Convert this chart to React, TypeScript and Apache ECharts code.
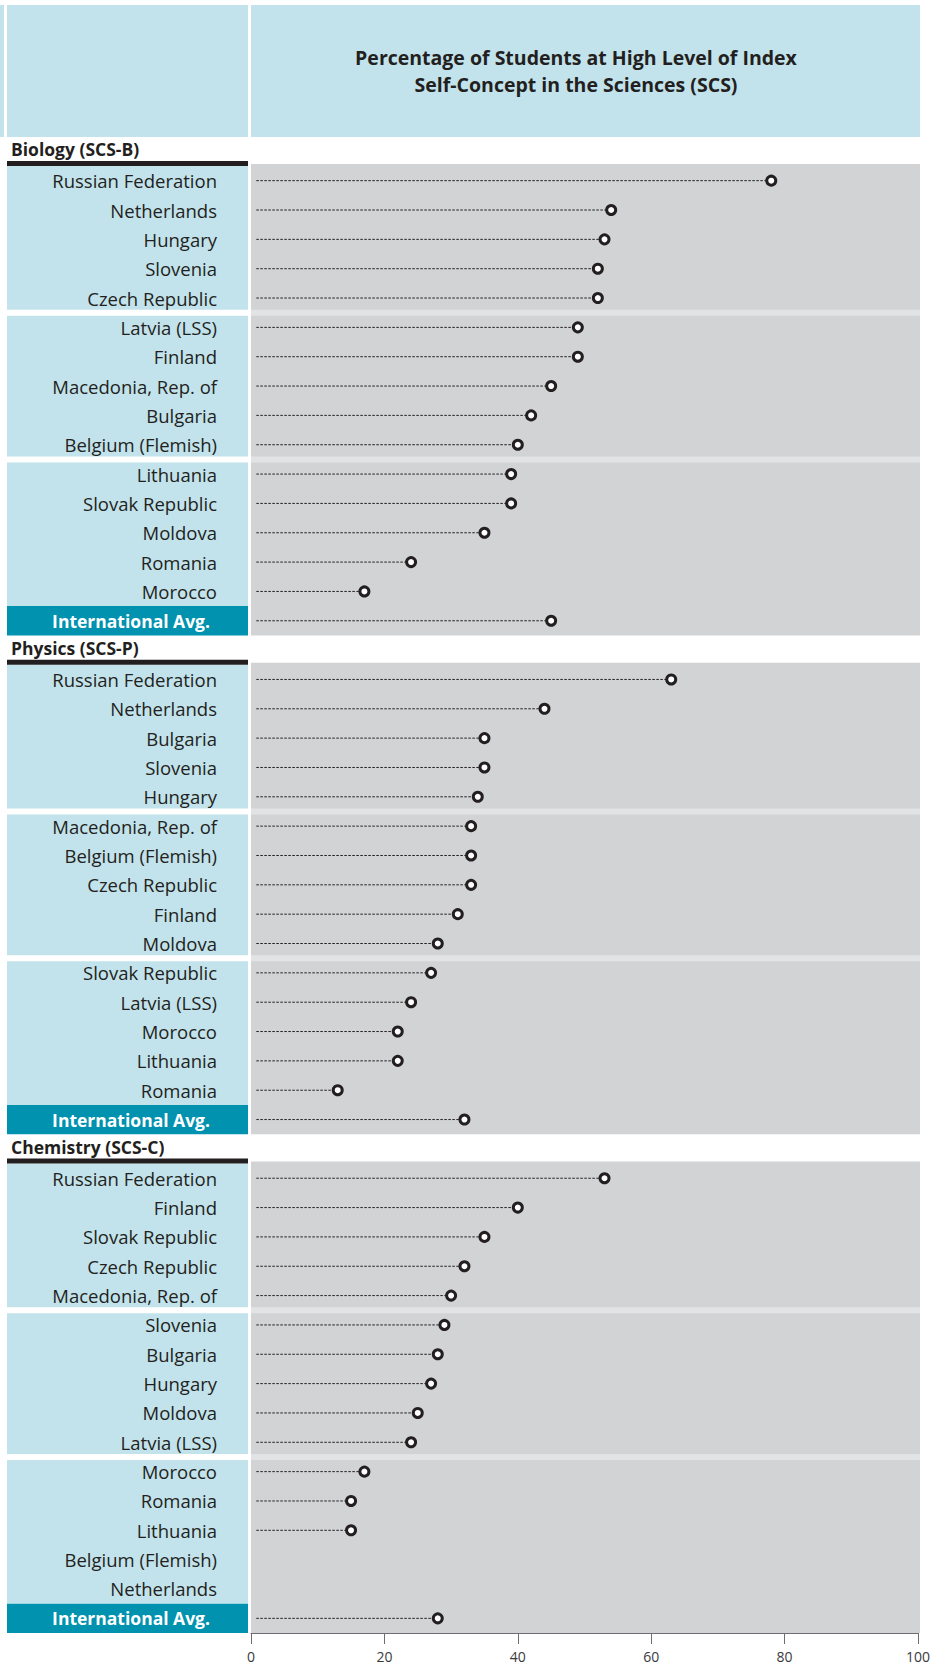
import React, { useEffect, useRef } from "react";
import * as echarts from "echarts";

const TITLE_LINES = [
  "Percentage of Students at High Level of Index",
  "Self-Concept in the Sciences (SCS)",
];

const SUBJECTS = ["Biology (SCS-B)", "Physics (SCS-P)", "Chemistry (SCS-C)"];

const BIO_COUNTRIES = [
  "Russian Federation", "Netherlands", "Hungary", "Slovenia", "Czech Republic",
  "Latvia (LSS)", "Finland", "Macedonia, Rep. of", "Bulgaria", "Belgium (Flemish)",
  "Lithuania", "Slovak Republic", "Moldova", "Romania", "Morocco",
  "International Avg.",
];
const BIO_VALUES = [78, 54, 53, 52, 52, 49, 49, 45, 42, 40, 39, 39, 35, 24, 17, 45];

const PHY_COUNTRIES = [
  "Russian Federation", "Netherlands", "Bulgaria", "Slovenia", "Hungary",
  "Macedonia, Rep. of", "Belgium (Flemish)", "Czech Republic", "Finland", "Moldova",
  "Slovak Republic", "Latvia (LSS)", "Morocco", "Lithuania", "Romania",
  "International Avg.",
];
const PHY_VALUES = [63, 44, 35, 35, 34, 33, 33, 33, 31, 28, 27, 24, 22, 22, 13, 32];

const CHE_COUNTRIES = [
  "Russian Federation", "Finland", "Slovak Republic", "Czech Republic", "Macedonia, Rep. of",
  "Slovenia", "Bulgaria", "Hungary", "Moldova", "Latvia (LSS)",
  "Morocco", "Romania", "Lithuania", "Belgium (Flemish)", "Netherlands",
  "International Avg.",
];
const CHE_VALUES: (number | null)[] = [53, 40, 35, 32, 30, 29, 28, 27, 25, 24, 17, 15, 15, null, null, 28];

const X_MIN = 0;
const X_MAX = 100;
const X_INTERVAL = 20;

const FONT = "'Open Sans', 'Noto Sans', sans-serif";
const LIGHT_BLUE = "#c2e3ec";
const TEAL = "#0092ae";
const GRAY = "#d1d3d5";
const SEP_GRAY = "#e2e3e5";
const INK = "#231f20";

export default function App() {
  const ref = useRef<HTMLDivElement>(null);

  useEffect(() => {
    document.body.style.margin = "0";
    if (!ref.current) return;
    const chart = echarts.init(ref.current, undefined, { renderer: "svg" });

    const P = 29.34;
    const TOP0 = 166;
    const LEFT = 251;
    const RIGHT_EDGE = 918;
    const blocks = [
      { countries: BIO_COUNTRIES, values: BIO_VALUES },
      { countries: PHY_COUNTRIES, values: PHY_VALUES },
      { countries: CHE_COUNTRIES, values: CHE_VALUES },
    ];
    const nRows = 16;
    const blockTop = (i: number) => TOP0 + i * (nRows + 1) * P;

    const grids: any[] = [];
    const xAxes: any[] = [];
    const yAxes: any[] = [];
    const series: any[] = [];
    const graphics: any[] = [];

    graphics.push(
      { type: "rect", shape: { x: 0, y: 5, width: 4, height: 132 }, style: { fill: LIGHT_BLUE }, z: 0 },
      { type: "rect", shape: { x: 7, y: 5, width: 241, height: 132 }, style: { fill: LIGHT_BLUE }, z: 0 },
      { type: "rect", shape: { x: 251, y: 5, width: 669, height: 132 }, style: { fill: LIGHT_BLUE }, z: 0 }
    );
    TITLE_LINES.forEach((t, k) => {
      graphics.push({
        type: "text",
        x: 576,
        y: 57 + k * 27,
        z: 5,
        style: {
          text: t,
          fill: INK,
          font: `bold 19.5px ${FONT}`,
          textAlign: "center",
          textVerticalAlign: "middle",
        },
      });
    });

    blocks.forEach((b, i) => {
      const top = blockTop(i);
      const h = nRows * P;
      grids.push({ left: LEFT, width: RIGHT_EDGE - LEFT, top, height: h, containLabel: false });

      graphics.push({
        type: "text",
        x: 11,
        y: top - 17,
        z: 5,
        style: { text: SUBJECTS[i], fill: INK, font: `bold 17.5px ${FONT}`, textVerticalAlign: "middle" },
      });
      graphics.push({ type: "rect", shape: { x: 7, y: top - 5, width: 241, height: 5 }, style: { fill: INK }, z: 1 });

      graphics.push({ type: "rect", shape: { x: LEFT, y: top - 2, width: 920 - LEFT, height: h + 2 }, style: { fill: GRAY }, z: 0 });
      [5, 10].forEach((r) => {
        graphics.push({ type: "rect", shape: { x: LEFT, y: top + r * P - 3, width: 920 - LEFT, height: 6 }, style: { fill: SEP_GRAY }, z: 1 });
      });
      [0, 1, 2].forEach((g) => {
        const y0 = top + g * 5 * P + (g === 0 ? 0 : 3);
        const y1 = top + (g + 1) * 5 * P - (g === 2 ? 0 : 3);
        graphics.push({ type: "rect", shape: { x: 7, y: y0, width: 241, height: y1 - y0 }, style: { fill: LIGHT_BLUE }, z: 0 });
      });
      graphics.push({ type: "rect", shape: { x: 7, y: top + 15 * P, width: 241, height: P }, style: { fill: TEAL }, z: 0 });

      const last = i === blocks.length - 1;
      xAxes.push({
        gridIndex: i,
        type: "value",
        min: X_MIN,
        max: X_MAX,
        interval: X_INTERVAL,
        show: last,
        z: 10,
        axisLine: { show: true, lineStyle: { color: "#6d6e71", width: 1 } },
        axisTick: { show: true, length: 11, lineStyle: { color: "#6d6e71" } },
        axisLabel: { color: "#3a3a3c", fontSize: 14, fontFamily: FONT, margin: 16 },
        splitLine: { show: false },
      });
      yAxes.push({
        gridIndex: i,
        type: "category",
        inverse: true,
        data: b.countries,
        z: 10,
        axisLine: { show: false },
        axisTick: { show: false },
        splitLine: { show: false },
        axisLabel: {
          interval: 0,
          margin: 34,
          formatter: (v: string, idx: number) => (idx === nRows - 1 ? `{avg|${v}}` : `{c|${v}}`),
          rich: {
            c: { color: INK, fontSize: 18.5, fontFamily: FONT },
            avg: { color: "#ffffff", fontSize: 17.5, fontWeight: "bold", fontFamily: FONT, padding: [0, 7, 0, 0] },
          },
        },
      });

      const pts = b.values
        .map((v, idx) => (v == null ? null : [v, idx]))
        .filter((d) => d !== null);

      series.push({
        type: "custom",
        xAxisIndex: i,
        yAxisIndex: i,
        z: 20,
        silent: true,
        data: pts,
        renderItem: (params: any, api: any) => {
          const v = api.value(0);
          const idx = api.value(1);
          const s = api.coord([0.8, idx]);
          const e = api.coord([v, idx]);
          return {
            type: "line",
            shape: { x1: s[0], y1: s[1], x2: e[0], y2: e[1] },
            style: { stroke: INK, lineWidth: 1, lineDash: [2.5, 1.5] },
          };
        },
      });
      series.push({
        type: "scatter",
        xAxisIndex: i,
        yAxisIndex: i,
        z: 30,
        symbol: "circle",
        symbolSize: 9,
        itemStyle: { color: "#ffffff", borderColor: INK, borderWidth: 3, opacity: 1 },
        data: pts,
      });
    });

    chart.setOption({
      animation: false,
      grid: grids,
      xAxis: xAxes,
      yAxis: yAxes,
      series,
      graphic: { elements: graphics },
    });

    return () => chart.dispose();
  }, []);

  return <div ref={ref} style={{ width: 933, height: 1670 }} />;
}
